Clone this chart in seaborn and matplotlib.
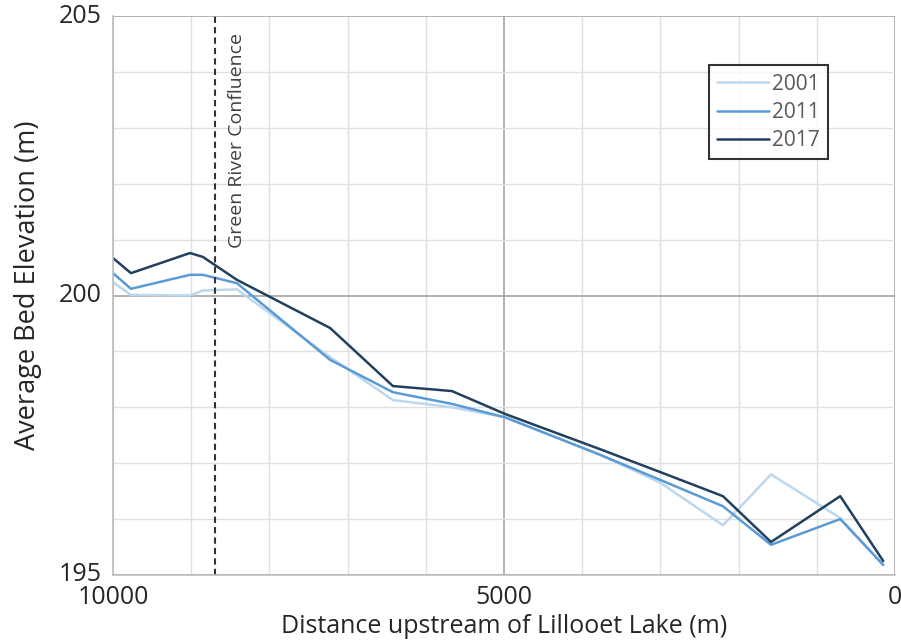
import matplotlib
matplotlib.use("Agg")
import matplotlib.pyplot as plt
import matplotlib.transforms as mtransforms
import seaborn as sns
import pandas as pd
from matplotlib.ticker import MultipleLocator

distance = [10000, 9770, 9015, 8850, 8415, 7225, 6420, 5665, 4985, 3770, 3000, 2200, 1585, 700, 150]
elev_2001 = [200.24, 200.01, 200.00, 200.09, 200.11, 198.90, 198.13, 198.00, 197.82, 197.15, 196.65, 195.89, 196.80, 196.02, 195.18]
elev_2011 = [200.40, 200.12, 200.37, 200.37, 200.22, 198.85, 198.27, 198.06, 197.82, 197.15, 196.70, 196.23, 195.54, 196.00, 195.18]
elev_2017 = [200.67, 200.40, 200.76, 200.69, 200.28, 199.42, 198.38, 198.29, 197.88, 197.25, 196.84, 196.41, 195.59, 196.41, 195.25]
years = ["2001", "2011", "2017"]
colors = ["#bdd7ee", "#5b9bd5", "#223f5e"]
confluence_x = 8700

rows = []
for yr, vals in zip(years, [elev_2001, elev_2011, elev_2017]):
    for d, v in zip(distance, vals):
        rows.append({"Distance": d, "Elevation": v, "Year": yr})
df = pd.DataFrame(rows)

sns.set_style("white")
plt.rcParams["font.family"] = ["Open Sans", "DejaVu Sans"]

fig = plt.figure(figsize=(9.01, 6.41), dpi=100)
ax = fig.add_axes([0.1254, 0.103, 0.8679, 0.872])

sns.lineplot(data=df, x="Distance", y="Elevation", hue="Year", palette=dict(zip(years, colors)),
             sort=False, linewidth=1.8, ax=ax, estimator=None)

ax.set_xlim(10000, 0)
ax.set_ylim(195, 205)
ax.xaxis.set_major_locator(MultipleLocator(5000))
ax.xaxis.set_minor_locator(MultipleLocator(1000))
ax.yaxis.set_major_locator(MultipleLocator(5))
ax.yaxis.set_minor_locator(MultipleLocator(1))
ax.grid(which="major", color="#a6a6a6", linewidth=1.2)
ax.grid(which="minor", color="#e0e0e0", linewidth=1.0)
ax.set_axisbelow(True)
for s in ["top", "right"]:
    ax.spines[s].set_visible(False)
for s in ["left", "bottom"]:
    ax.spines[s].set_color("#bfbfbf")
    ax.spines[s].set_linewidth(1.2)
ax.tick_params(which="both", length=0, labelsize=18)
ax.tick_params(axis="y", pad=8)
ax.tick_params(axis="x", pad=7)
shift = mtransforms.ScaledTranslation(0, 3 / 100, fig.dpi_scale_trans)
for lbl in ax.get_yticklabels():
    lbl.set_transform(lbl.get_transform() + shift)

ax.set_xlabel("Distance upstream of Lillooet Lake (m)", fontsize=18, labelpad=3)
ax.set_ylabel("Average Bed Elevation (m)", fontsize=19.5)
ax.yaxis.set_label_coords(-0.091, 0.519)

ax.axvline(confluence_x, color="#333333", linestyle=(0, (3, 2)), linewidth=1.5)
ax.text(confluence_x - 280, 204.7, "Green River Confluence", rotation=90, va="top", ha="center",
        fontsize=14, color="#404040")

leg = ax.legend(title=None, loc="upper left", bbox_to_anchor=(0.762, 0.912), frameon=True, fancybox=False,
                fontsize=15, handlelength=2.5, handletextpad=0.15, borderpad=0.4, labelspacing=0.35,
                borderaxespad=0)
leg.get_frame().set_edgecolor("black")
leg.get_frame().set_linewidth(1.5)
for t in leg.get_texts():
    t.set_color("#595959")

fig.savefig("out.png", dpi=100)
